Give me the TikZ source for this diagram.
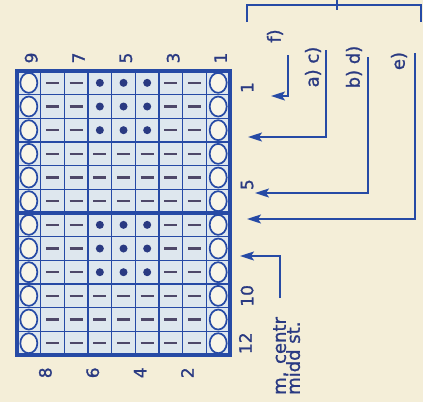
\documentclass[tikz,border=0pt]{standalone}
\usepackage{fontspec}
\setmainfont{DejaVu Sans}
\newfontfamily\chartfont[FakeBold=1.2]{DejaVu Sans}
\usepackage{tikz}
\usetikzlibrary{arrows.meta,positioning}
\definecolor{paper}{RGB}{244,238,216}
\definecolor{chartblue}{RGB}{38,74,165}
\definecolor{cellblue}{RGB}{222,231,238}
\definecolor{ink}{RGB}{42,58,130}
\definecolor{stitchgrey}{RGB}{78,72,105}
\tikzset{
	grid_line/.style={chartblue, line width=1.2pt},
	frame/.style={chartblue, line width=3.4pt},
	edge_stitch/.style={chartblue, line width=1.7pt, fill=paper!60!white},
	purl/.style={stitchgrey, line width=2.4pt},
	bobble/.style={fill=ink},
	num/.style={rotate=90, inner sep=0pt, text=ink, font=\chartfont\fontsize{17}{17}\selectfont},
	lbl/.style={rotate=90, inner sep=0pt, text=ink, font=\chartfont\fontsize{18}{14}\selectfont},
	row_arrow/.style={chartblue, line width=1.7pt, -{Stealth[length=14pt,width=9pt,inset=3pt]}},
	bracket/.style={chartblue, line width=1.4pt}
}

\begin{document}
\begin{tikzpicture}[x=1pt, y=-1pt]
	\fill[paper] (0,0) rectangle (423,402);
	\useasboundingbox (0,0) rectangle (423,402);
	\begin{scope}[shift={(17,71)}, x=23.67pt, y=-23.67pt]
		\fill[cellblue] (0,0) rectangle (9,12);
		\foreach \c in {1,...,8}
			\draw[grid_line] (\c,0) -- (\c,12);
		\foreach \r in {1,...,11}
			\draw[grid_line] (0,\r) -- (9,\r);
		\foreach \r in {0,...,11} {
			\draw[edge_stitch] (0.5,\r+0.5) ellipse [x radius=8.5pt, y radius=10pt];
			\draw[edge_stitch] (8.5,\r+0.5) ellipse [x radius=8.5pt, y radius=10pt];
		}
		\foreach \r in {0,1,2,6,7,8} {
			\foreach \c in {1,2,6,7}
				\draw[purl] (\c+0.22,\r+0.5) -- (\c+0.78,\r+0.5);
			\foreach \c in {3,4,5}
				\fill[bobble] (\c+0.5,\r+0.5) circle [radius=4pt];
		}
		\foreach \r in {3,4,5,9,10,11}
			\foreach \c in {1,...,7}
				\draw[purl] (\c+0.22,\r+0.5) -- (\c+0.78,\r+0.5);
		\draw[frame] (0,0) rectangle (9,12);
		\draw[frame] (0,6) -- (9,6);
		\foreach \n [count=\k] in {9,7,5,3,1}
			\node[num] (row\n) at (2*\k-1.4,-0.55) {\n};
		\foreach \n [count=\k] in {8,6,4,2}
			\node[num] (row\n) at (2*\k-0.8,12.75) {\n};
		\node[num] (st1) at (9.72,0.7) {1};
		\node[num] (st5) at (9.72,4.8) {5};
		\node[num] (st10) at (9.72,9.5) {10};
		\node[num] (st12) at (9.65,11.5) {12};
	\end{scope}
	\node[lbl] (f) at (275,36) {f)};
	\node[lbl] (ac) at (313,67) {a) c)};
	\node[lbl] (bd) at (354,67) {b) d)};
	\node[lbl] (e) at (399,61) {e)};
	\node[lbl, align=left, anchor=north west] (mid) at (273,395) {m. centr\\midd st.};
	\coordinate (f_top) at (288,55);
	\coordinate (f_tip) at (271,96);
	\coordinate (ac_top) at (326,50);
	\coordinate (ac_tip) at (248,137);
	\coordinate (bd_top) at (368,57);
	\coordinate (bd_tip) at (255,193);
	\coordinate (e_top) at (415,53);
	\coordinate (e_tip) at (247,219);
	\coordinate (mid_foot) at (280,298);
	\coordinate (mid_tip) at (240,256);
	\draw[row_arrow] (f_top) |- (f_tip);
	\draw[row_arrow] (ac_top) |- (ac_tip);
	\draw[row_arrow] (bd_top) |- (bd_tip);
	\draw[row_arrow] (e_top) |- (e_tip);
	\draw[row_arrow] (mid_foot) |- (mid_tip);
	\coordinate (br_l) at (247,22);
	\coordinate (br_r) at (421,22);
	\draw[bracket] (br_l) |- (421,5) -- (br_r);
	\draw[bracket] (337,0) -- (337,10);
\end{tikzpicture}
\end{document}
